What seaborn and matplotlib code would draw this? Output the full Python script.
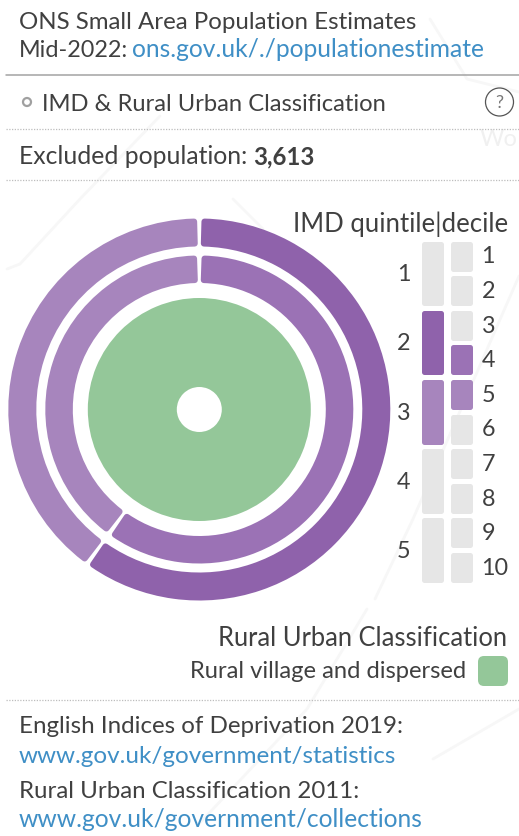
import numpy as np
import pandas as pd
import matplotlib
matplotlib.use("Agg")
import matplotlib.pyplot as plt
from matplotlib.patches import Circle, FancyBboxPatch
import seaborn as sns

# ---- data
quintiles = ["1", "2", "3", "4", "5"]
deciles = ["1", "2", "3", "4", "5", "6", "7", "8", "9", "10"]
quintile_share = [0, 60, 40, 0, 0]
decile_share = [0, 0, 0, 60, 40, 0, 0, 0, 0, 0]
rural_urban_labels = ["Rural village and dispersed"]
rural_urban_share = [100]
excluded_population = "3,613"

DARK, MID, LIGHT = "#8F62AB", "#9B72B5", "#A785BD"
GREEN, EMPTY = "#94C799", "#E6E6E6"
TEXT, LINK = "#404040", "#3F8FC6"
FONT = "Lato"
FS = 17.4

W, H = 519, 837
sns.set_theme(style="white")
plt.rcParams["font.family"] = [FONT, "DejaVu Sans"]
fig = plt.figure(figsize=(W / 100, H / 100), dpi=100, facecolor="white")


def px_axes(left, top, right, bottom, **kw):
    return fig.add_axes([left / W, 1 - bottom / H, (right - left) / W, (bottom - top) / H], **kw)


# page overlay in pixel coordinates
page = px_axes(0, 0, W, H)
page.set_xlim(0, W)
page.set_ylim(H, 0)
page.axis("off")

# very faint map texture behind the panel
faint_map_x = [[7, 20, 80, 160], [430, 467, 519], [233, 263], [375, 413, 519], [367, 307, 197], [519, 433]]
faint_map_y = [[270, 265, 200, 117], [20, 80, 93], [200, 230], [600, 520, 277], [610, 710, 827], [710, 760]]
for mx, my in zip(faint_map_x, faint_map_y):
    page.plot(mx, my, color="#F7F7F7", lw=2, zorder=0)
page.text(480, 146, "Wo", fontsize=17, color="#F0F0F0", zorder=0)


def txt(x, y, s, size=FS, color=TEXT, ha="left", **kw):
    return page.text(x, y, s, fontsize=size, color=color, ha=ha, va="baseline", **kw)


txt(19, 29, "ONS Small Area Population Estimates", size=17.3)
txt(19, 57, "Mid-2022:", size=16.8)
txt(132, 57, "ons.gov.uk/./populationestimate", size=17.7, color=LINK)
page.plot([6, W], [76, 76], color="#A3A3A3", lw=1.1)
page.add_patch(Circle((27, 103), 4, fc="white", ec="#A0A0A0", lw=1.6))
txt(42, 111, "IMD & Rural Urban Classification", size=17.1)
page.add_patch(Circle((499.5, 103), 14, fc="white", ec="#555555", lw=0.9))
page.text(499.5, 103, "?", fontsize=13, color="#777777", ha="center", va="center")
txt(19, 164, "Excluded population:", size=17.8)
txt(253, 164, excluded_population, size=17.3, fontweight="bold")
for yy in (130, 181, 701):
    page.plot([6, W], [yy, yy], color="#BDBDBD", lw=0.9, ls=(0, (1, 1.2)))

txt(508, 232, "IMD quintile|decile", size=18.5, ha="right")
txt(507, 646, "Rural Urban Classification", size=18.4, ha="right")
txt(466, 678, rural_urban_labels[0], size=17.1, ha="right")
page.add_patch(FancyBboxPatch((481, 660), 24, 24, boxstyle="round,pad=3,rounding_size=6",
                              fc=GREEN, ec="none"))
txt(19, 733, "English Indices of Deprivation 2019:", size=17.35)
txt(19, 763, "www.gov.uk/government/statistics", size=17.5, color=LINK)
txt(19, 798, "Rural Urban Classification 2011:", size=17.3)
txt(19, 827, "www.gov.uk/government/collections", size=17.7, color=LINK)

# ---- rings on a polar axes, radius in pixels
cx, cy, RMAX = 199.3, 410.5, 195
pol = px_axes(cx - RMAX, cy - RMAX, cx + RMAX, cy + RMAX, projection="polar")
pol.set_theta_zero_location("N")
pol.set_theta_direction(-1)
pol.set_ylim(0, RMAX)
pol.axis("off")
pol.patch.set_alpha(0)

CORNER, GAP = 3.0, 3.7
LW = 2 * CORNER * 72 / 100


def ring(shares, colors, r0, r1):
    shares = np.asarray(shares, float)
    edges = np.concatenate([[0], np.cumsum(shares)]) / shares.sum() * 2 * np.pi
    rm = (r0 + r1) / 2
    ins = (GAP / 2 + CORNER) / rm
    for a, b, c in zip(edges[:-1], edges[1:], colors):
        pol.bar((a + b) / 2, r1 - r0 - 2 * CORNER, width=b - a - 2 * ins, bottom=r0 + CORNER,
                color=c, edgecolor=c, linewidth=LW, joinstyle="round", align="center")


q_vals = [v for v in quintile_share if v]
d_vals = [v for v in decile_share if v]
ring(q_vals, [DARK, LIGHT], 163, 191)
ring(d_vals, [MID, LIGHT], 126.5, 154)
pol.bar(np.pi, 111.5 - 22.5, width=2 * np.pi, bottom=22.5, color=GREEN, linewidth=0)

# ---- quintile / decile key drawn with seaborn bars
UNIT = 34.6
KEY_Y0 = 239.7
key_top, key_bottom = KEY_Y0 - UNIT * 0.1, KEY_Y0 + UNIT * 10.1
key = px_axes(418.15, key_top, 475.55, key_bottom)
rows = []
for i, q in enumerate(quintiles):
    rows.append(dict(col="quintile", start=2 * i, span=2, c=[EMPTY, DARK, LIGHT][0 if not quintile_share[i] else (1 if i == 1 else 2)]))
for i, d in enumerate(deciles):
    rows.append(dict(col="decile", start=i, span=1, c=EMPTY if not decile_share[i] else (MID if i == 3 else LIGHT)))
cells = pd.DataFrame(rows)
CELL_PAD = 4.6 / 2 + 2.5  # px
for _, r in cells.iterrows():
    sns.barplot(data=pd.DataFrame({"col": [r.col], "h": [r.span - 2 * CELL_PAD / UNIT]}),
                x="col", y="h", order=["quintile", "decile"], bottom=r.start + CELL_PAD / UNIT,
                color=r.c, saturation=1, width=0.755 - 5 / 28.7, ax=key,
                edgecolor=r.c, linewidth=5 * 72 / 100, joinstyle="round", errorbar=None)
key.set_xlim(-0.5, 1.5)
key.set_ylim(10.1, -0.1)
key.axis("off")
key.patch.set_alpha(0)

for i, q in enumerate(quintiles):
    page.text(404, 242 + UNIT * (2 * i + 1) - 2, q, fontsize=16.8, color=TEXT, ha="center", va="center")
for i, d in enumerate(deciles):
    txt(481.5, 242 + UNIT * (i + 0.5) + 4, d, size=16.8)

fig.savefig("out.png", dpi=100, facecolor="white")
